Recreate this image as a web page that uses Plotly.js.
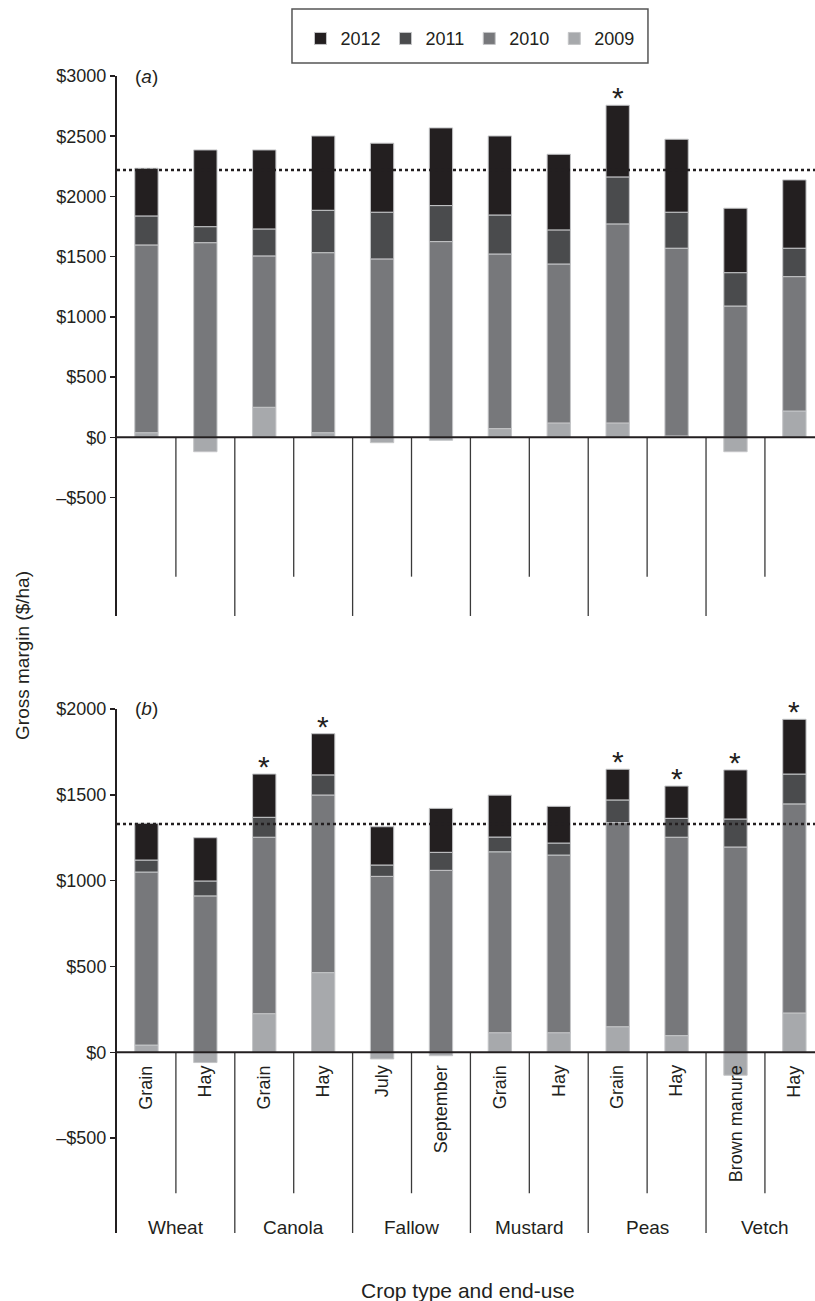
<!DOCTYPE html>
<html>
<head>
<meta charset="utf-8">
<script src="https://cdn.plot.ly/plotly-3.0.1.min.js"></script>
<style>html,body{margin:0;padding:0;background:#fff;}</style>
</head>
<body>
<div id="chart" style="width:815px;height:1301px;"></div>
<script>
// ---------- data ----------
const subLabels = ['Grain', 'Hay', 'Grain', 'Hay', 'July', 'September', 'Grain', 'Hay', 'Grain', 'Hay', 'Brown manure', 'Hay'];
const groupLabels = ['Wheat', 'Canola', 'Fallow', 'Mustard', 'Peas', 'Vetch'];
const years = ['2009', '2010', '2011', '2012'];

// Panel (a)
const a2009 = [38, -120, 249, 38, -45, -25, 72, 119, 119, 11, -120, 218];
const a2010 = [1559, 1616, 1257, 1495, 1481, 1625, 1450, 1320, 1653, 1559, 1090, 1116];
const a2011 = [241, 133, 224, 352, 388, 299, 324, 283, 390, 299, 277, 236];
const a2012 = [396, 637, 656, 617, 573, 645, 656, 628, 595, 606, 535, 567];
const aMean = 2220;
const aStars = [8];

// Panel (b)
const b2009 = [42, -60, 225, 464, -39, -20, 114, 114, 149, 97, -134, 229];
const b2010 = [1008, 911, 1028, 1035, 1025, 1060, 1054, 1035, 1189, 1156, 1196, 1218];
const b2011 = [70, 87, 116, 117, 66, 105, 86, 70, 132, 110, 163, 174];
const b2012 = [214, 252, 252, 240, 223, 256, 244, 214, 179, 188, 286, 319];
const bMean = 1330;
const bStars = [2, 3, 8, 9, 10, 11];

// tick labels
const aTickVals = [-500, 0, 500, 1000, 1500, 2000, 2500, 3000];
const aTickText = ['\u2013$500', '$0', '$500', '$1000', '$1500', '$2000', '$2500', '$3000'];
const bTickVals = [-500, 0, 500, 1000, 1500, 2000];
const bTickText = ['\u2013$500', '$0', '$500', '$1000', '$1500', '$2000'];

// ---------- styles ----------
const INK = '#231f20';
const colors = {'2009': '#a7a9ac', '2010': '#77787b', '2011': '#4a4b4d', '2012': '#231f20'};
const FONT = 'Liberation Sans, Arial, Helvetica, sans-serif';
const idx = subLabels.map((_, i) => i);

const panelA = {'2009': a2009, '2010': a2010, '2011': a2011, '2012': a2012};
const panelB = {'2009': b2009, '2010': b2010, '2011': b2011, '2012': b2012};

const traces = [];
years.forEach(yr => {
  traces.push({
    type: 'bar', name: yr, x: idx, y: panelA[yr], xaxis: 'x', yaxis: 'y',
    legendgroup: yr, showlegend: true,
    marker: {color: colors[yr], line: {color: '#c4c5c7', width: 1}},
    hoverinfo: 'y+name'
  });
});
years.forEach(yr => {
  traces.push({
    type: 'bar', name: yr, x: idx, y: panelB[yr], xaxis: 'x2', yaxis: 'y2',
    legendgroup: yr, showlegend: false,
    marker: {color: colors[yr], line: {color: '#c4c5c7', width: 1}},
    hoverinfo: 'y+name'
  });
});

// ---------- geometry ----------
const aRange = [-1484, 3000];
const bRange = [-1053, 2000];
const sepRatio = 0.78; // inner separators are shorter than group separators
const xRange = [-0.5, 11.35];

const shapes = [];
const annotations = [];

function panelDecor(xr, yr, range, mean) {
  for (let k = 0; k < subLabels.length - 1; k++) {
    const isGroup = (k % 2 === 1);
    shapes.push({
      type: 'line', xref: xr, yref: yr, x0: k + 0.5, x1: k + 0.5,
      y0: 0, y1: isGroup ? range[0] : range[0] * sepRatio,
      line: {color: '#3a3a3a', width: 1.3}, layer: 'above'
    });
  }
  shapes.push({
    type: 'line', xref: xr, yref: yr, x0: subLabels.length - 0.5, x1: subLabels.length - 0.5,
    y0: 0, y1: range[0], line: {color: '#3a3a3a', width: 1.3}, layer: 'above'
  });
  shapes.push({
    type: 'line', xref: xr, yref: yr, x0: -0.5, x1: subLabels.length - 0.5, y0: 0, y1: 0,
    line: {color: INK, width: 2.2}, layer: 'above'
  });
  shapes.push({
    type: 'line', xref: xr, yref: yr, x0: -0.5, x1: subLabels.length - 0.5, y0: mean, y1: mean,
    line: {color: INK, width: 2.6, dash: 'dot'}, layer: 'above'
  });
}
panelDecor('x', 'y', aRange, aMean);
panelDecor('x2', 'y2', bRange, bMean);

function positiveTotal(p, i) {
  return years.reduce((s, yr) => s + Math.max(0, p[yr][i]), 0);
}
function stars(list, p, xr, yr) {
  list.forEach(i => {
    annotations.push({
      xref: xr, yref: yr, x: i, y: positiveTotal(p, i), text: '*', showarrow: false,
      xanchor: 'center', yanchor: 'bottom', yshift: -11,
      font: {family: FONT, size: 30, color: INK}
    });
  });
}
stars(aStars, panelA, 'x', 'y');
stars(bStars, panelB, 'x2', 'y2');

// panel letters
annotations.push({xref: 'x', yref: 'y', x: -0.5, y: aTickVals[aTickVals.length - 1], xanchor: 'left', yanchor: 'middle',
  xshift: 16, text: '(<i>a</i>)', showarrow: false, font: {family: FONT, size: 19, color: INK}});
annotations.push({xref: 'x2', yref: 'y2', x: -0.5, y: bTickVals[bTickVals.length - 1], xanchor: 'left', yanchor: 'middle',
  xshift: 16, text: '(<i>b</i>)', showarrow: false, font: {family: FONT, size: 19, color: INK}});

// category labels (panel b)
subLabels.forEach((lab, i) => {
  annotations.push({xref: 'x2', yref: 'y2', x: i, y: 0, text: lab, showarrow: false,
    textangle: -90, xanchor: 'center', yanchor: 'top', yshift: -11,
    font: {family: FONT, size: 18, color: INK}});
});
groupLabels.forEach((lab, g) => {
  annotations.push({xref: 'x2', yref: 'y2', x: 2 * g + 0.5, y: 0, text: lab, showarrow: false,
    xanchor: 'center', yanchor: 'middle', yshift: -175,
    font: {family: FONT, size: 19, color: INK}});
});

// axis titles
annotations.push({xref: 'paper', yref: 'paper', x: -0.1347, y: 0.4996, text: 'Gross margin ($/ha)',
  textangle: -90, showarrow: false, xanchor: 'center', yanchor: 'middle',
  font: {family: FONT, size: 19, color: INK}});
annotations.push({xref: 'paper', yref: 'paper', x: 0.503, y: -0.0493, text: 'Crop type and end-use',
  showarrow: false, xanchor: 'center', yanchor: 'middle',
  font: {family: FONT, size: 21, color: INK}});

// legend frame
shapes.push({type: 'rect', xref: 'paper', yref: 'paper', x0: 0.2507, x1: 0.7607, y0: 1.0112, y1: 1.0579,
  line: {color: '#555555', width: 1.5}, fillcolor: 'rgba(0,0,0,0)'});

const yAxisBase = {
  ticks: 'outside', ticklen: 5, tickwidth: 1.5, tickcolor: INK,
  showline: true, linecolor: INK, linewidth: 2,
  showgrid: false, zeroline: false, fixedrange: true,
  tickfont: {family: FONT, size: 18, color: INK}
};
const xAxisBase = {
  range: xRange, showgrid: false, zeroline: false, showticklabels: false,
  ticks: '', showline: false, fixedrange: true
};

const layout = {
  width: 815, height: 1301,
  margin: {l: 117, r: 0, t: 76, b: 68},
  paper_bgcolor: '#ffffff', plot_bgcolor: '#ffffff',
  barmode: 'relative', bargap: 0.604,
  font: {family: FONT, size: 18, color: INK},
  showlegend: true,
  legend: {orientation: 'h', x: 0.5057, xanchor: 'center', y: 1.0322, yanchor: 'middle',
    traceorder: 'reversed', font: {family: FONT, size: 18, color: INK},
    bgcolor: 'rgba(0,0,0,0)', borderwidth: 0},
  xaxis: Object.assign({}, xAxisBase, {domain: [0, 1], anchor: 'y'}),
  yaxis: Object.assign({}, yAxisBase, {domain: [0.5333, 1], anchor: 'x', range: aRange,
    tickvals: aTickVals, ticktext: aTickText}),
  xaxis2: Object.assign({}, xAxisBase, {domain: [0, 1], anchor: 'y2'}),
  yaxis2: Object.assign({}, yAxisBase, {domain: [0, 0.4529], anchor: 'x2', range: bRange,
    tickvals: bTickVals, ticktext: bTickText}),
  shapes: shapes,
  annotations: annotations
};

Plotly.newPlot('chart', traces, layout, {displayModeBar: false, staticPlot: true});
</script>
</body>
</html>
